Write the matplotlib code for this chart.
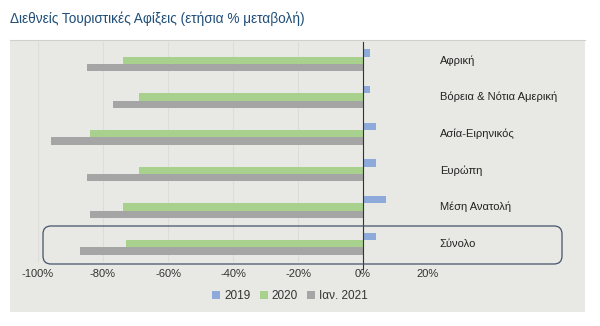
import matplotlib

matplotlib.use('agg')
import matplotlib.pyplot as plt
from matplotlib.patches import Rectangle, FancyBboxPatch
from matplotlib.ticker import FuncFormatter
import numpy as np

regions = ["Αφρική", "Βόρεια & Νότια Αμερική", "Ασία-Ειρηνικός",
           "Ευρώπη", "Μέση Ανατολή", "Σύνολο"]
series_names = ["2019", "2020", "Ιαν. 2021"]
vals_2019 = [2, 2, 4, 4, 7, 4]
vals_2020 = [-74, -69, -84, -69, -74, -73]
vals_jan2021 = [-85, -77, -96, -85, -84, -87]
x_ticks = [-100, -80, -60, -40, -20, 0, 20]

colors = ["#8eaadb", "#a9d18e", "#a5a5a5"]
bg = "#e8e8e5"

fig = plt.figure(figsize=(6, 3.26), dpi=100)
fig.patch.set_facecolor("white")

# grey panel behind the chart + line under the title
fig.patches.append(Rectangle((10 / 600, 1 - 312 / 326), 575 / 600, 272 / 326,
                             transform=fig.transFigure, facecolor=bg,
                             edgecolor="none", zorder=-1))
fig.add_artist(plt.Line2D([10 / 600, 585 / 600], [1 - 40 / 326, 1 - 40 / 326],
                          transform=fig.transFigure, color="#d0d0cc", lw=0.8))
fig.text(10 / 600, 1 - 19 / 326, "Διεθνείς Τουριστικές Αφίξεις (ετήσια % μεταβολή)",
         fontsize=9.8, color="#1f4e79", family="Liberation Sans",
         va="center", ha="left")

ax = fig.add_axes([38 / 600, 1 - 262 / 326, 390 / 600, 220 / 326])
ax.set_facecolor("none")
ax.set_zorder(2)

y = np.arange(len(regions))
h = 0.2
for i, (vals, name) in enumerate(zip([vals_2019, vals_2020, vals_jan2021], series_names)):
    ax.barh(y + (i - 1) * h, vals, height=h, color=colors[i], label=name, zorder=3)

ax.set_xlim(-100, 20)
ax.set_ylim(len(regions) - 0.5, -0.5)
ax.set_xticks(x_ticks)
ax.xaxis.set_major_formatter(FuncFormatter(lambda v, p: f"{v:.0f}%"))
ax.grid(axis="x", color="#dcdcd8", lw=0.8, zorder=0)
ax.set_yticks([])
ax.tick_params(axis="x", length=0, pad=5, labelsize=8, labelcolor="#333333")
for lbl in ax.get_xticklabels():
    lbl.set_family("Liberation Sans")
for s in ax.spines.values():
    s.set_visible(False)
ax.axvline(0, color="#333333", lw=0.8, ymin=-0.03, ymax=1, clip_on=False, zorder=4)

for i, r in enumerate(regions):
    ax.text(1.03, i, r, transform=ax.get_yaxis_transform(), va="center", ha="left",
            fontsize=8, family="Liberation Sans", color="#222222")

box = FancyBboxPatch((0.43, 0.62), 5.19, 0.38, boxstyle="round,pad=0,rounding_size=0.08",
                     transform=fig.dpi_scale_trans, facecolor="none",
                     edgecolor="#44546a", lw=0.9, zorder=5)
fig.patches.append(box)

leg = fig.legend(loc="center", bbox_to_anchor=(290 / 600, 1 - 296 / 326), ncol=3,
                 frameon=False, handlelength=0.7, handleheight=0.7, handletextpad=0.3,
                 columnspacing=0.8, prop={"family": "Liberation Sans", "size": 8.5})
for t in leg.get_texts():
    t.set_color("#333333")

plt.savefig("out.png", dpi=100)
